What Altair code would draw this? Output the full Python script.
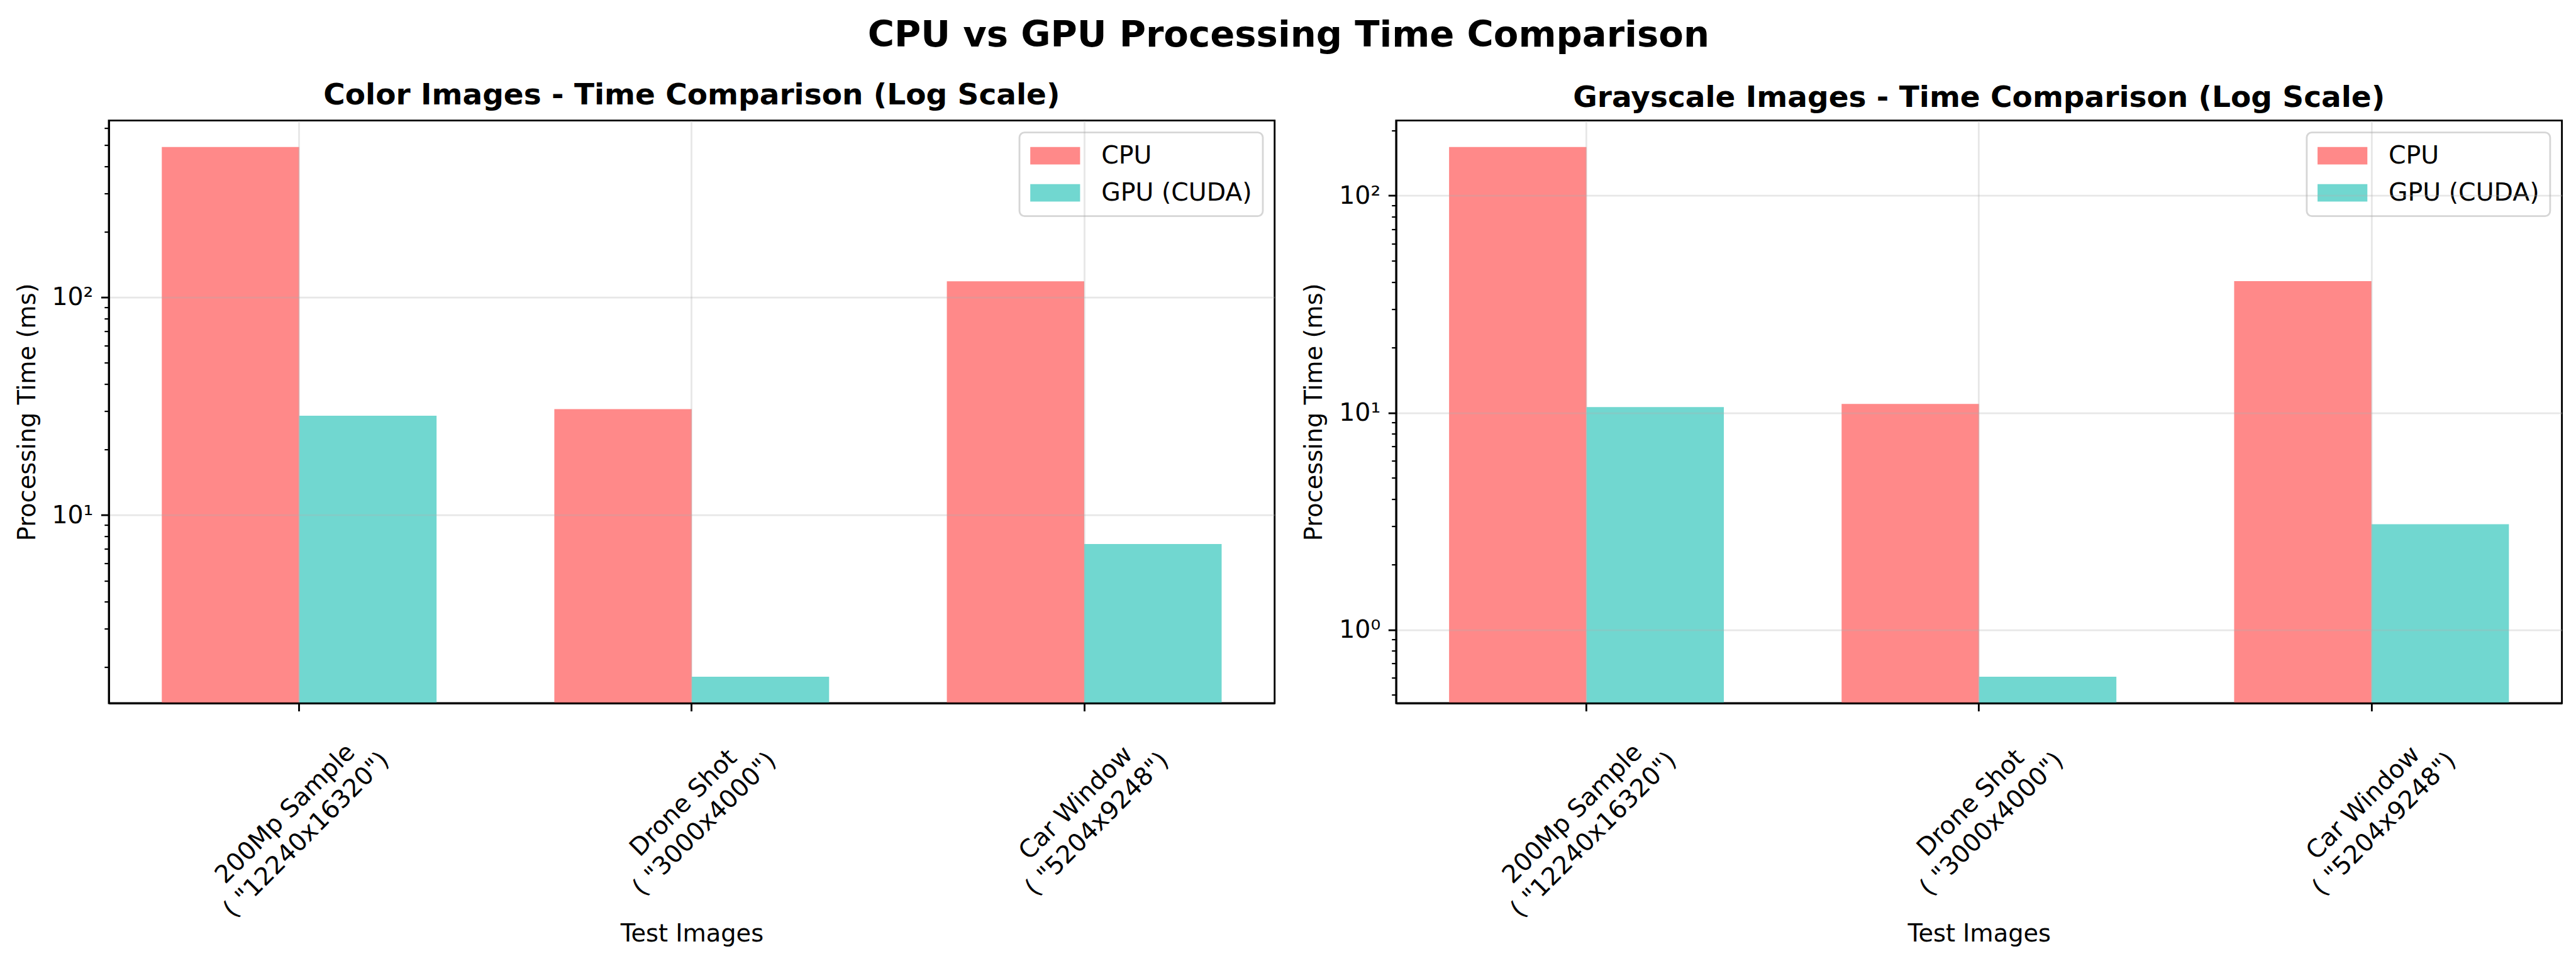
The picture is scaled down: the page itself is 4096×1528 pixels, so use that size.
import math
import altair as alt
import pandas as pd

# ---------------- data ----------------
images = ['200Mp Sample\n( "12240x16320")', 'Drone Shot\n( "3000x4000")', 'Car Window\n( "5204x9248")']
devices = ["CPU", "GPU (CUDA)"]
device_colors = ["#FF6B6B", "#4ECDC4"]

color_cpu = [491, 30.7, 118.7]
color_gpu = [28.6, 1.81, 7.36]
gray_cpu = [167.6, 10.96, 40.4]
gray_gpu = [10.6, 0.607, 3.06]

panel_titles = ["Color Images - Time Comparison (Log Scale)",
                "Grayscale Images - Time Comparison (Log Scale)"]
suptitle = "CPU vs GPU Processing Time Comparison"
y_title = "Processing Time (ms)"
x_title = "Test Images"

# ---------------- sizes (reference px * 0.861) ----------------
S = 0.861
PW = 2153 * S
PH = 1076 * S
GAP = 224 * S
FONT = "DejaVu Sans"
LW = 3.3 * S
TICKFONT = 45.8 * S

MAJOR = "datum.value == 1 || datum.value == 10 || datum.value == 100"
FIRST = "indexof(datum.value, '200Mp') == 0"


def log_domain(vals):
    lo, hi = math.log10(min(vals)), math.log10(max(vals))
    m = 0.05 * (hi - lo)
    return [10 ** (lo - m), 10 ** (hi + m)]


def tick_values(dom):
    out = []
    for k in range(-2, 4):
        for m in range(1, 10):
            v = m / 10 ** (-k) if k < 0 else m * 10 ** k
            if dom[0] <= v <= dom[1]:
                out.append(v)
    return out


def panel(cpu, gpu, title):
    rows = []
    for img, c, g in zip(images, cpu, gpu):
        rows.append({"image": img, "device": devices[0], "time": c})
        rows.append({"image": img, "device": devices[1], "time": g})
    df = pd.DataFrame(rows)
    dom = log_domain(cpu + gpu)

    yaxis = alt.Axis(
        values=tick_values(dom),
        labelExpr="datum.value == 1 ? '10⁰' : datum.value == 10 ? '10¹' : datum.value == 100 ? '10²' : ''",
        tickSize={"condition": {"test": MAJOR, "value": 14.6 * S}, "value": 8.3 * S},
        tickWidth={"condition": {"test": MAJOR, "value": LW}, "value": 2.5 * S},
        gridOpacity={"condition": {"test": MAJOR, "value": 0.3}, "value": 0},
        gridColor="#b0b0b0", gridWidth=LW,
        labelPadding=14.6 * S, labelFontSize=TICKFONT, labelLimit=0,
        title=y_title, titleFontSize=44.5 * S,
        titleX=-(199 - 62) * S, titleBaseline="alphabetic",
        domainColor="black", domainWidth=LW, tickColor="black",
        labelOverlap=False, zindex=1,
    )
    xaxis = alt.Axis(
        title=x_title, titleFontSize=44.5 * S,
        titleY=(1735 - 1295) * S, titleBaseline="alphabetic",
        labelAngle=315, labelAlign="center", labelBaseline="middle",
        labelFontSize=TICKFONT, labelLineHeight=55 * S, labelLimit=0,
        labelExpr="split(datum.label, '\\n')",
        labelPadding={"condition": {"test": FIRST, "value": 163}, "value": 146},
        labelOffset={"condition": {"test": FIRST, "value": -22}, "value": -13},
        tickSize=14.6 * S, tickWidth=LW, tickColor="black",
        grid=True, gridColor="#b0b0b0", gridOpacity=0.3, gridWidth=LW,
        domainColor="black", domainWidth=LW, bandPosition=0.5,
        labelOverlap=False, zindex=1,
    )
    legend = alt.Legend(title=None, orient="top-right", offset=22 * S)

    return alt.Chart(df).mark_bar(opacity=0.8, strokeWidth=0).encode(
        x=alt.X("image:N", sort=images,
                scale=alt.Scale(paddingInner=0.3, paddingOuter=0.135), axis=xaxis),
        xOffset=alt.XOffset("device:N", sort=devices,
                            scale=alt.Scale(paddingInner=0, paddingOuter=0)),
        y=alt.Y("time:Q", scale=alt.Scale(type="log", domain=dom, nice=False), axis=yaxis),
        y2=alt.datum(dom[0]),
        color=alt.Color("device:N", sort=devices,
                        scale=alt.Scale(domain=devices, range=device_colors), legend=legend),
    ).properties(
        width=PW, height=PH,
        title=alt.TitleParams(text=title, font=FONT, fontSize=54.6 * S, fontWeight="bold",
                              anchor="middle", baseline="alphabetic", offset=-29.5,
                              color="black"),
    )


left = panel(color_cpu, color_gpu, panel_titles[0])
right = panel(gray_cpu, gray_gpu, panel_titles[1])

SYM = 39.6  # legend cell unit; swatch drawn 2x as wide

chart = alt.hconcat(
    left, right, spacing=GAP, bounds="flush",
    title=alt.TitleParams(text=suptitle, font=FONT, fontSize=67 * S, fontWeight="bold",
                          anchor="middle", baseline="alphabetic", offset=-5.1, color="black"),
).resolve_scale(y="independent").resolve_legend(color="independent").properties(
    padding={"left": 22, "top": 27.6, "right": 20, "bottom": 5},
    background="white",
).configure_view(
    stroke="black", strokeWidth=LW,
).configure_axis(
    labelFont=FONT, titleFont=FONT, labelColor="black", titleColor="black",
    titleFontWeight="normal",
).configure_legend(
    symbolType="M-1,-0.7L3,-0.7L3,0.7L-1,0.7Z",
    symbolSize=SYM ** 2, symbolStrokeWidth=0, symbolOpacity=0.8,
    labelFont=FONT, labelFontSize=45.8 * S, labelColor="black",
    labelOffset=2 * SYM - SYM + 39 * S,
    labelLimit=0,
    rowPadding=19, padding=17,
    fillColor="rgba(255,255,255,0.8)", strokeColor="#d6d6d6", strokeWidth=LW,
    cornerRadius=8,
)

chart.save("out.html", embed_options={"renderer": "svg", "actions": False})
